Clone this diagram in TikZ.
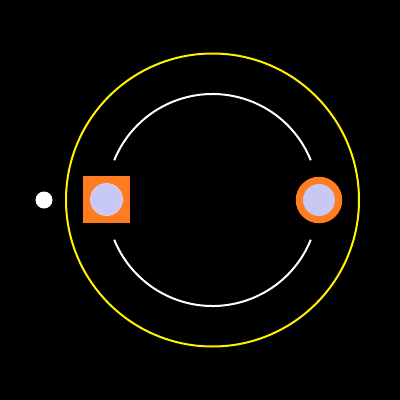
\documentclass[tikz,border=0pt]{standalone}
\begin{document}
\begin{tikzpicture}[x=1pt,y=-1pt,
  orb/.style={draw=yellow,line width=2pt},
  warc/.style={draw=white,line width=2pt},
  lav/.style={fill={rgb,255:red,200;green,200;blue,245}},
  orng/.style={fill={rgb,255:red,255;green,125;blue,32}}]
\fill[black] (0,0) rectangle (400,400);
\useasboundingbox (0,0) rectangle (400,400);
\coordinate (c) at (212.5,200);
\draw[orb] (c) circle[radius=146.5];
\draw[warc] ([shift={(-22:106)}]c) arc[start angle=-22,end angle=-158,radius=106];
\draw[warc] ([shift={(22:106)}]c) arc[start angle=22,end angle=158,radius=106];
\node[orng,minimum size=47pt,inner sep=0pt] (sq) at (106.5,199.5) {};
\draw[lav,draw=white!85!blue,line width=0.7pt] (sq.center) circle[radius=16];
\node[orng,circle,minimum size=46.5pt,inner sep=0pt] (oc) at (319,200) {};
\fill[lav] (oc.center) circle[radius=16];
\node[fill=white,circle,minimum size=17pt,inner sep=0pt] (dot) at (44,200) {};
\end{tikzpicture}
\end{document}
